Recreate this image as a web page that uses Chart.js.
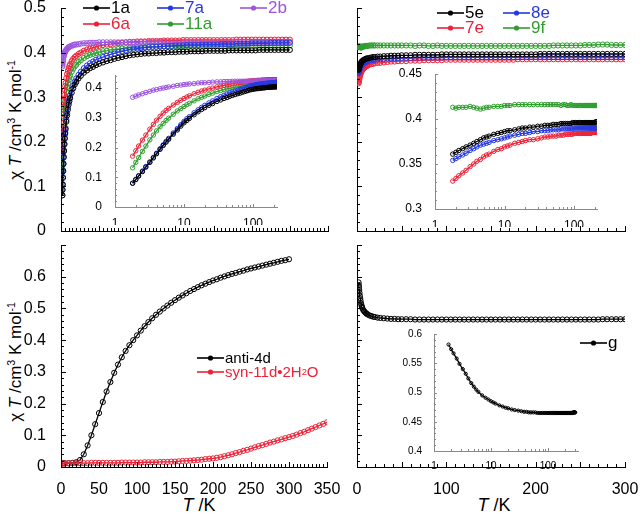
<!DOCTYPE html>
<html>
<head>
<meta charset="utf-8">
<script src="https://cdn.jsdelivr.net/npm/chart.js@4.4.1/dist/chart.umd.min.js"></script>
<style>
body { margin: 0; background: #fff; }
#wrap { position: relative; width: 640px; height: 515px; overflow: hidden; font-family: "Liberation Sans", Arial, sans-serif; color: #000; }
.box { position: absolute; }
.ytitle { position: absolute; white-space: nowrap; font-size: 17px; transform: translate(-50%, -50%) rotate(-90deg); }
.xtitle { position: absolute; white-space: nowrap; font-size: 18px; transform: translate(-50%, -50%); }
.leg { position: absolute; display: flex; align-items: center; white-space: nowrap; height: 18px; line-height: 18px; }
.leg svg { margin-right: 1px; flex: none; }
sup { font-size: 62%; vertical-align: 0.6em; line-height: 0; }
sub { font-size: 62%; vertical-align: -0.3em; line-height: 0; }
</style>
</head>
<body>
<div id="wrap">
  <div class="ytitle" style="left:16px;top:120px">χ <i>T</i> /cm<sup>3</sup> K mol<sup>-1</sup></div>
  <div class="ytitle" style="left:16px;top:362px">χ <i>T</i> /cm<sup>3</sup> K mol<sup>-1</sup></div>
  <div class="xtitle" style="left:199px;top:505px"><i>T</i> /K</div>
  <div class="xtitle" style="left:494px;top:505px"><i>T</i> /K</div>
</div>
<script>
// temperature grid (K) used by the top panels, the g panel and the insets
const tGrid = [
  1.8, 2, 2.2, 2.5, 2.8, 3.2, 3.6, 4, 4.5, 5,
  5.5, 6, 7, 8, 9, 10, 11, 12, 14, 16,
  18, 20, 23, 26, 30, 34, 38, 42, 46, 50,
  55, 60, 65, 70, 75, 80, 85, 90, 95, 100,
  105, 110, 115, 120, 125, 130, 135, 140, 145, 150,
  155, 160, 165, 170, 175, 180, 185, 190, 195, 200,
  205, 210, 215, 220, 225, 230, 235, 240, 245, 250,
  255, 260, 265, 270, 275, 280, 285, 290, 295, 300
];

// top left: 1a, 7a, 2b, 6a, 11a
const chi1a = [
  0.080, 0.092, 0.104, 0.119, 0.134, 0.150, 0.165, 0.179, 0.194, 0.207,
  0.218, 0.228, 0.245, 0.259, 0.272, 0.283, 0.291, 0.298, 0.310, 0.320,
  0.328, 0.334, 0.342, 0.348, 0.355, 0.360, 0.365, 0.368, 0.372, 0.375,
  0.378, 0.381, 0.383, 0.386, 0.388, 0.390, 0.392, 0.394, 0.395, 0.396,
  0.397, 0.398, 0.398, 0.399, 0.399, 0.400, 0.400, 0.401, 0.401, 0.401,
  0.402, 0.402, 0.402, 0.403, 0.403, 0.403, 0.403, 0.404, 0.404, 0.404,
  0.404, 0.404, 0.404, 0.405, 0.405, 0.405, 0.405, 0.405, 0.405, 0.405,
  0.405, 0.406, 0.406, 0.406, 0.406, 0.406, 0.406, 0.406, 0.406, 0.406
];
const chi7a = [
  0.080, 0.093, 0.105, 0.121, 0.136, 0.152, 0.167, 0.181, 0.196, 0.209,
  0.221, 0.231, 0.249, 0.264, 0.277, 0.288, 0.297, 0.304, 0.317, 0.327,
  0.335, 0.342, 0.350, 0.357, 0.365, 0.371, 0.376, 0.380, 0.384, 0.387,
  0.390, 0.393, 0.396, 0.398, 0.401, 0.403, 0.405, 0.407, 0.408, 0.409,
  0.410, 0.411, 0.412, 0.413, 0.413, 0.414, 0.414, 0.415, 0.415, 0.416,
  0.416, 0.416, 0.417, 0.417, 0.417, 0.417, 0.418, 0.418, 0.418, 0.418,
  0.418, 0.419, 0.419, 0.419, 0.419, 0.420, 0.420, 0.420, 0.420, 0.421,
  0.421, 0.421, 0.421, 0.421, 0.422, 0.422, 0.422, 0.422, 0.422, 0.422
];
const chi2b = [
  0.369, 0.373, 0.377, 0.381, 0.385, 0.389, 0.393, 0.395, 0.398, 0.400,
  0.402, 0.404, 0.406, 0.409, 0.410, 0.412, 0.413, 0.414, 0.415, 0.417,
  0.418, 0.418, 0.419, 0.420, 0.421, 0.421, 0.422, 0.422, 0.422, 0.423,
  0.423, 0.423, 0.423, 0.423, 0.423, 0.423, 0.423, 0.423, 0.423, 0.423,
  0.424, 0.424, 0.424, 0.424, 0.424, 0.424, 0.424, 0.424, 0.424, 0.424,
  0.424, 0.424, 0.424, 0.424, 0.424, 0.424, 0.424, 0.424, 0.424, 0.424,
  0.424, 0.424, 0.424, 0.424, 0.424, 0.424, 0.424, 0.424, 0.424, 0.424,
  0.424, 0.424, 0.424, 0.424, 0.424, 0.424, 0.424, 0.424, 0.424, 0.424
];
const chi6a = [
  0.171, 0.189, 0.205, 0.225, 0.242, 0.262, 0.278, 0.292, 0.305, 0.316,
  0.325, 0.332, 0.343, 0.352, 0.359, 0.365, 0.370, 0.374, 0.381, 0.386,
  0.390, 0.393, 0.397, 0.400, 0.404, 0.407, 0.409, 0.411, 0.413, 0.415,
  0.417, 0.418, 0.419, 0.420, 0.421, 0.422, 0.423, 0.424, 0.424, 0.425,
  0.425, 0.425, 0.426, 0.426, 0.426, 0.426, 0.427, 0.427, 0.427, 0.427,
  0.427, 0.428, 0.428, 0.428, 0.428, 0.428, 0.428, 0.428, 0.428, 0.428,
  0.428, 0.428, 0.428, 0.428, 0.428, 0.429, 0.429, 0.429, 0.429, 0.429,
  0.429, 0.429, 0.429, 0.429, 0.429, 0.429, 0.429, 0.429, 0.429, 0.429
];
const chi11a = [
  0.132, 0.150, 0.166, 0.187, 0.205, 0.226, 0.242, 0.256, 0.270, 0.281,
  0.291, 0.299, 0.312, 0.323, 0.331, 0.338, 0.344, 0.349, 0.357, 0.364,
  0.369, 0.373, 0.379, 0.383, 0.388, 0.392, 0.395, 0.397, 0.399, 0.401,
  0.403, 0.404, 0.406, 0.407, 0.408, 0.409, 0.410, 0.411, 0.411, 0.412,
  0.412, 0.412, 0.413, 0.413, 0.413, 0.413, 0.414, 0.414, 0.414, 0.414,
  0.414, 0.414, 0.415, 0.415, 0.415, 0.415, 0.415, 0.415, 0.415, 0.415,
  0.415, 0.415, 0.415, 0.415, 0.415, 0.415, 0.416, 0.416, 0.416, 0.416,
  0.416, 0.416, 0.416, 0.416, 0.416, 0.416, 0.416, 0.416, 0.416, 0.416
];

// top right: 5e, 8e, 7e, 9f
const chi5e = [
  0.361, 0.363, 0.365, 0.367, 0.369, 0.371, 0.373, 0.375, 0.377, 0.379,
  0.380, 0.381, 0.383, 0.384, 0.385, 0.386, 0.387, 0.387, 0.388, 0.389,
  0.390, 0.390, 0.391, 0.391, 0.392, 0.392, 0.393, 0.393, 0.393, 0.394,
  0.394, 0.394, 0.395, 0.395, 0.395, 0.395, 0.395, 0.395, 0.396, 0.396,
  0.396, 0.396, 0.396, 0.396, 0.396, 0.396, 0.396, 0.396, 0.396, 0.396,
  0.396, 0.396, 0.396, 0.396, 0.396, 0.396, 0.396, 0.396, 0.396, 0.396,
  0.397, 0.397, 0.397, 0.397, 0.397, 0.397, 0.397, 0.397, 0.397, 0.397,
  0.397, 0.397, 0.397, 0.397, 0.397, 0.397, 0.397, 0.397, 0.397, 0.397
];
const chi8e = [
  0.354, 0.356, 0.358, 0.360, 0.362, 0.365, 0.367, 0.369, 0.371, 0.372,
  0.373, 0.374, 0.376, 0.377, 0.378, 0.379, 0.380, 0.381, 0.382, 0.383,
  0.384, 0.384, 0.385, 0.386, 0.386, 0.387, 0.387, 0.387, 0.388, 0.388,
  0.388, 0.388, 0.389, 0.389, 0.389, 0.389, 0.389, 0.389, 0.389, 0.390,
  0.390, 0.390, 0.390, 0.390, 0.390, 0.390, 0.390, 0.390, 0.390, 0.390,
  0.390, 0.390, 0.390, 0.390, 0.390, 0.390, 0.390, 0.390, 0.390, 0.390,
  0.390, 0.390, 0.390, 0.390, 0.390, 0.390, 0.390, 0.390, 0.390, 0.390,
  0.390, 0.390, 0.390, 0.390, 0.390, 0.390, 0.390, 0.390, 0.390, 0.390
];
const chi7e = [
  0.331, 0.334, 0.337, 0.340, 0.343, 0.347, 0.350, 0.353, 0.355, 0.358,
  0.360, 0.361, 0.364, 0.366, 0.367, 0.369, 0.370, 0.371, 0.373, 0.374,
  0.375, 0.376, 0.377, 0.377, 0.378, 0.379, 0.380, 0.380, 0.381, 0.381,
  0.381, 0.382, 0.382, 0.382, 0.383, 0.383, 0.383, 0.383, 0.383, 0.384,
  0.384, 0.384, 0.384, 0.384, 0.384, 0.384, 0.384, 0.384, 0.384, 0.384,
  0.384, 0.384, 0.384, 0.384, 0.384, 0.385, 0.385, 0.385, 0.385, 0.385,
  0.385, 0.385, 0.385, 0.385, 0.385, 0.385, 0.385, 0.385, 0.385, 0.385,
  0.385, 0.385, 0.385, 0.385, 0.385, 0.385, 0.385, 0.385, 0.385, 0.385
];
const chi9f = [
  0.413, 0.412, 0.413, 0.413, 0.413, 0.414, 0.413, 0.412, 0.411, 0.412,
  0.413, 0.413, 0.414, 0.414, 0.414, 0.415, 0.415, 0.415, 0.416, 0.416,
  0.416, 0.416, 0.416, 0.416, 0.416, 0.416, 0.416, 0.416, 0.416, 0.416,
  0.416, 0.416, 0.415, 0.416, 0.416, 0.415, 0.415, 0.416, 0.415, 0.415,
  0.415, 0.415, 0.415, 0.415, 0.415, 0.415, 0.415, 0.415, 0.415, 0.415,
  0.415, 0.415, 0.415, 0.415, 0.415, 0.415, 0.415, 0.415, 0.415, 0.415,
  0.415, 0.415, 0.415, 0.416, 0.416, 0.416, 0.416, 0.416, 0.416, 0.416,
  0.417, 0.417, 0.417, 0.418, 0.418, 0.418, 0.417, 0.417, 0.417, 0.417
];

// bottom right: g
const chiG = [
  0.582, 0.574, 0.567, 0.558, 0.549, 0.540, 0.532, 0.524, 0.516, 0.510,
  0.505, 0.501, 0.495, 0.491, 0.488, 0.485, 0.483, 0.481, 0.478, 0.476,
  0.474, 0.473, 0.471, 0.470, 0.469, 0.468, 0.467, 0.467, 0.466, 0.466,
  0.466, 0.466, 0.465, 0.465, 0.465, 0.465, 0.465, 0.465, 0.465, 0.465,
  0.465, 0.465, 0.465, 0.465, 0.465, 0.465, 0.465, 0.465, 0.465, 0.465,
  0.465, 0.465, 0.465, 0.465, 0.465, 0.465, 0.465, 0.465, 0.465, 0.465,
  0.465, 0.465, 0.465, 0.465, 0.465, 0.465, 0.465, 0.465, 0.465, 0.465,
  0.465, 0.465, 0.465, 0.465, 0.466, 0.466, 0.466, 0.466, 0.466, 0.466
];

// bottom left: anti-4d (to 300 K) and syn-11d·2H2O (to 350 K)
const tBL = [
  2, 5,
  10, 15, 20, 25, 30, 35, 40, 45, 50, 55,
  60, 65, 70, 75, 80, 85, 90, 95, 100, 105,
  110, 115, 120, 125, 130, 135, 140, 145, 150, 155,
  160, 165, 170, 175, 180, 185, 190, 195, 200, 205,
  210, 215, 220, 225, 230, 235, 240, 245, 250, 255,
  260, 265, 270, 275, 280, 285, 290, 295, 300, 305,
  310, 315, 320, 325, 330, 335, 340, 345, 350
];
const chiAnti4d = [
  0.012, 0.012,
  0.012, 0.013, 0.015, 0.022, 0.040, 0.068, 0.100, 0.135, 0.170, 0.205,
  0.238, 0.268, 0.297, 0.323, 0.346, 0.366, 0.384, 0.400, 0.415, 0.430,
  0.444, 0.457, 0.469, 0.480, 0.490, 0.500, 0.509, 0.518, 0.526, 0.534,
  0.541, 0.548, 0.555, 0.561, 0.567, 0.573, 0.578, 0.583, 0.588, 0.592,
  0.597, 0.601, 0.605, 0.609, 0.612, 0.616, 0.619, 0.623, 0.626, 0.629,
  0.632, 0.635, 0.638, 0.641, 0.644, 0.647, 0.650, 0.652, 0.655
];
const chiSyn11d = [
  0.010, 0.011,
  0.012, 0.012, 0.012, 0.012, 0.012, 0.012, 0.013, 0.013, 0.013, 0.013,
  0.013, 0.013, 0.013, 0.013, 0.014, 0.014, 0.014, 0.014, 0.014, 0.014,
  0.015, 0.015, 0.015, 0.015, 0.016, 0.016, 0.016, 0.017, 0.017, 0.018,
  0.019, 0.019, 0.020, 0.021, 0.022, 0.023, 0.025, 0.026, 0.027, 0.029,
  0.031, 0.034, 0.037, 0.040, 0.044, 0.047, 0.051, 0.054, 0.058, 0.062,
  0.066, 0.069, 0.073, 0.077, 0.080, 0.084, 0.087, 0.091, 0.094, 0.098,
  0.102, 0.107, 0.111, 0.116, 0.121, 0.126, 0.131, 0.136, 0.141
];

// series names and colours
const namesTL = ['1a', '7a', '2b', '6a', '11a'];
const colorsTL = ['#000000', '#2638e0', '#9b55de', '#ec2238', '#2f9e2f'];
const namesTR = ['5e', '8e', '7e', '9f'];
const colorsTR = ['#000000', '#2638e0', '#ec2238', '#2f9e2f'];
const namesBL = ['anti-4d', 'syn-11d•2H<sub>2</sub>O'];
const colorsBL = ['#000000', '#ec2238'];
const namesBR = ['g'];
const colorsBR = ['#000000'];

// log-axis tick labels for the insets
const logLabels = [1, 10, 100];

const FONT = '"Liberation Sans", Arial, sans-serif';
Chart.defaults.font.family = FONT;
const wrap = document.getElementById('wrap');

// inward tick marks, placed with the chart's own scales
const inTicks = {
  id: 'inTicks',
  afterDraw(chart, args, o) {
    if (!o || !o.x) return;
    const ctx = chart.ctx, a = chart.chartArea;
    ctx.save();
    ctx.strokeStyle = o.color;
    ctx.lineWidth = 1;
    ctx.beginPath();
    ['x', 'y'].forEach(id => {
      const s = chart.scales[id];
      tickValues(s, o[id]).forEach(([v, major]) => {
        const len = major ? o.major : o.minor;
        const p = Math.round(s.getPixelForValue(v)) + 0.5;
        if (id === 'x') { ctx.moveTo(p, a.bottom); ctx.lineTo(p, a.bottom - len); }
        else { ctx.moveTo(a.left, p); ctx.lineTo(a.left + len, p); }
      });
    });
    ctx.stroke();
    ctx.restore();
  }
};
Chart.register(inTicks);

function tickValues(s, spec) {
  const out = [];
  if (spec.log) {
    for (let d = 1; d <= s.max; d *= 10)
      for (let k = 1; k <= 9; k++) {
        const v = d * k;
        if (v >= s.min && v <= s.max) out.push([v, k === 1]);
      }
  } else {
    const n = Math.floor((s.max - s.min) / spec.minor + 1e-6);
    for (let i = 0; i <= n; i++) {
      const v = s.min + i * spec.minor;
      const r = v / spec.major;
      out.push([v, Math.abs(r - Math.round(r)) < 1e-6]);
    }
  }
  return out;
}

function fitTo(size) {
  return s => {
    if (s.isHorizontal()) s.height = size; else s.width = size;
    s.paddingLeft = s.paddingRight = s.paddingTop = s.paddingBottom = 0;
  };
}

function linAxis(min, max, step, o) {
  return {
    type: 'linear', min, max,
    grid: { display: false },
    border: { color: o.axis, width: 1 },
    ticks: {
      display: o.show, stepSize: step, includeBounds: false, autoSkip: false, maxRotation: 0,
      color: '#000', font: { size: o.font }, padding: o.pad, callback: o.fmt
    }
  };
}

function logAxis(min, max, o) {
  return {
    type: 'logarithmic', min, max,
    grid: { display: false },
    border: { color: o.axis, width: 1 },
    ticks: {
      display: true, autoSkip: false, maxRotation: 0,
      color: '#000', font: { size: o.font }, padding: o.pad, callback: v => String(v)
    },
    afterBuildTicks: s => { s.ticks = logLabels.filter(v => v >= min && v <= max).map(v => ({ value: v })); }
  };
}

function series(xs, ys, color, r) {
  return {
    data: ys.map((v, i) => ({ x: xs[i], y: v })),
    showLine: true,
    borderColor: color,
    borderWidth: 1.3,
    pointRadius: r,
    pointBorderWidth: 1,
    pointBorderColor: color,
    pointBackgroundColor: 'rgba(255,255,255,0)'
  };
}

function panel(area, pad, datasets, x, y, ticks) {
  const d = document.createElement('div');
  d.className = 'box';
  d.style.left = (area.l - pad.l) + 'px';
  d.style.top = (area.t - pad.t) + 'px';
  d.style.width = (area.r - area.l + pad.l + pad.r) + 'px';
  d.style.height = (area.b - area.t + pad.t + pad.b) + 'px';
  const c = document.createElement('canvas');
  d.appendChild(c);
  wrap.appendChild(d);
  x.afterFit = fitTo(pad.b);
  y.afterFit = fitTo(pad.l);
  return new Chart(c, {
    type: 'scatter',
    data: { datasets },
    options: {
      responsive: true, maintainAspectRatio: false, animation: false, events: [],
      layout: { padding: { left: 0, top: pad.t, right: pad.r, bottom: 0 } },
      plugins: { legend: { display: false }, tooltip: { enabled: false }, inTicks: ticks },
      scales: { x, y }
    }
  });
}

function legend(x, y, color, html, size) {
  const d = document.createElement('div');
  d.className = 'leg';
  d.style.left = x + 'px';
  d.style.top = (y - 9) + 'px';
  d.style.fontSize = size + 'px';
  d.style.color = color;
  d.innerHTML = '<svg width="27" height="8"><line x1="0" y1="4" x2="27" y2="4" stroke="' + color +
    '" stroke-width="1.6"/><circle cx="13.5" cy="4" r="2.6" fill="' + color + '"/></svg>' + html;
  wrap.appendChild(d);
}

const fmt1 = v => v === 0 ? '0' : v.toFixed(1);
const fmtBL = v => v > 0.65 ? '' : fmt1(v);
const fmt2 = v => String(Math.round(v * 100) / 100);
const fmtX = v => String(v);
const mainTicks = (xm, xM) => ({ color: '#000', major: 5, minor: 3, x: { minor: xm, major: xM }, y: { minor: 0.02, major: 0.1 } });
const M = { axis: '#000', font: 16 };
const I = { axis: '#888' };

const dataTL = [chi1a, chi7a, chi2b, chi6a, chi11a];
const dataTR = [chi5e, chi8e, chi7e, chi9f];

// top left
panel({ l: 61, t: 8, r: 328, b: 231 }, { l: 52, r: 12, t: 10, b: 8 },
  dataTL.map((v, i) => series(tGrid, v, colorsTL[i], 2.6)),
  linAxis(0, 350, 50, { ...M, show: false, pad: 5, fmt: fmtX }),
  linAxis(0, 0.5, 0.1, { ...M, show: true, pad: 7, fmt: fmt1 }),
  mainTicks(5, 50));

// top right
panel({ l: 357, t: 8, r: 625, b: 231 }, { l: 8, r: 12, t: 10, b: 8 },
  dataTR.map((v, i) => series(tGrid, v, colorsTR[i], 2.6)),
  linAxis(0, 300, 50, { ...M, show: false, pad: 5, fmt: fmtX }),
  linAxis(0, 0.5, 0.1, { ...M, show: false, pad: 7, fmt: fmt1 }),
  mainTicks(10, 50));

// bottom left
panel({ l: 61, t: 245, r: 327, b: 467 }, { l: 52, r: 16, t: 8, b: 30 },
  [series(tBL, chiSyn11d, colorsBL[1], 2.6), series(tBL, chiAnti4d, colorsBL[0], 2.6)],
  linAxis(0, 350, 50, { ...M, show: true, pad: 5, fmt: fmtX }),
  linAxis(0, 0.7, 0.1, { ...M, show: true, pad: 7, fmt: fmtBL }),
  mainTicks(5, 50));

// bottom right
panel({ l: 357, t: 245, r: 625, b: 467 }, { l: 12, r: 14, t: 8, b: 30 },
  [series(tGrid, chiG, colorsBR[0], 2.6)],
  linAxis(0, 300, 100, { ...M, show: true, pad: 5, fmt: fmtX }),
  linAxis(0, 0.7, 0.1, { ...M, show: false, pad: 7, fmt: fmt1 }),
  mainTicks(10, 50));

// insets
panel({ l: 115, t: 75, r: 277, b: 207 }, { l: 32, r: 10, t: 8, b: 18 },
  dataTL.map((v, i) => series(tGrid, v, colorsTL[i], 2.2)),
  logAxis(1, 223, { ...I, font: 12, pad: 1 }),
  linAxis(0, 0.444, 0.1, { ...I, show: true, font: 12, pad: 5, fmt: fmt1 }),
  { color: '#888', major: 3, minor: 2, x: { log: true }, y: { minor: 0.02, major: 0.1 } });

panel({ l: 435, t: 74, r: 597, b: 209 }, { l: 36, r: 10, t: 8, b: 18 },
  dataTR.map((v, i) => series(tGrid, v, colorsTR[i], 2.2)),
  logAxis(1, 214, { ...I, font: 12, pad: 1 }),
  linAxis(0.3, 0.45, 0.05, { ...I, show: true, font: 12, pad: 5, fmt: fmt2 }),
  { color: '#888', major: 3, minor: 2, x: { log: true }, y: { minor: 0.01, major: 0.05 } });

panel({ l: 434, t: 334, r: 578, b: 451 }, { l: 38, r: 8, t: 8, b: 18 },
  [series(tGrid, chiG, colorsBR[0], 1.6)],
  logAxis(1, 335, { ...I, font: 10, pad: 1 }),
  linAxis(0.4, 0.6, 0.05, { ...I, show: true, font: 10, pad: 4, fmt: fmt2 }),
  { color: '#888', major: 3, minor: 2, x: { log: true }, y: { minor: 0.01, major: 0.05 } });

// legends
const legTL = [[83, 8], [157, 8], [240, 8], [83, 24], [157, 24]];
namesTL.forEach((n, i) => legend(legTL[i][0], legTL[i][1], colorsTL[i], n, 17));
const legTR = [[437, 13], [503, 13], [437, 28], [503, 28]];
namesTR.forEach((n, i) => legend(legTR[i][0], legTR[i][1], colorsTR[i], n, 17));
const legBL = [[197, 358], [197, 372]];
namesBL.forEach((n, i) => legend(legBL[i][0], legBL[i][1], colorsBL[i], n, 15));
legend(580, 343, colorsBR[0], namesBR[0], 17);
</script>
</body>
</html>
